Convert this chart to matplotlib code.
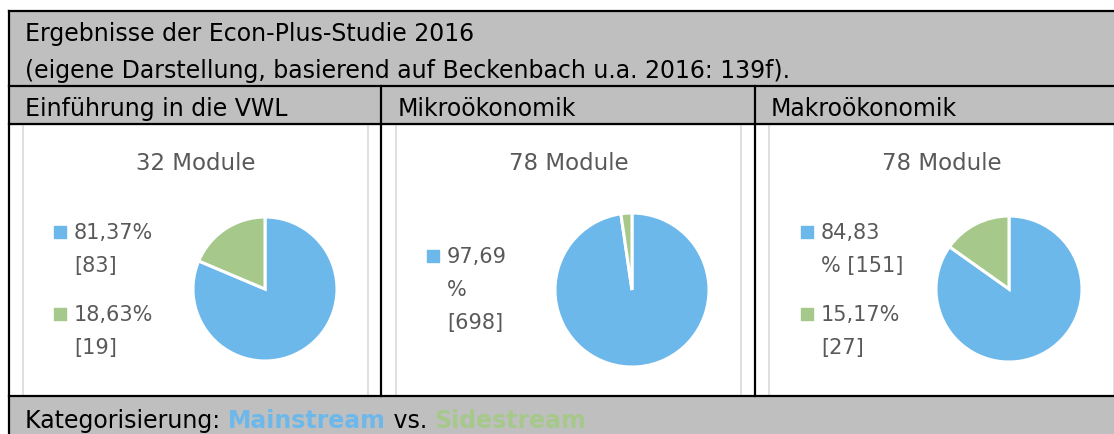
import matplotlib.pyplot as plt
from matplotlib.patches import Rectangle

# data
modules = ["Einführung in die VWL", "Mikroökonomik", "Makroökonomik"]
module_counts = [32, 78, 78]
mainstream_pct = [81.37, 97.69, 84.83]
sidestream_pct = [18.63, 2.31, 15.17]
mainstream_n = [83, 698, 151]
sidestream_n = [19, None, 27]
categories = ["Mainstream", "Sidestream"]

blue = "#6DB8EA"
green = "#A6C98B"
grey = "#BFBFBF"
txtgrey = "#595959"

plt.rcParams['font.family'] = ['DejaVu Sans']

W, H = 1114, 435
fig = plt.figure(figsize=(W / 100, H / 100), dpi=100)
ax = fig.add_axes([0, 0, 1, 1])
ax.set_xlim(0, W)
ax.set_ylim(H, 0)
ax.axis('off')

# table background
ax.add_patch(Rectangle((9, 12), W, 113, color=grey, zorder=0))
ax.add_patch(Rectangle((9, 397), W, 40, color=grey, zorder=0))

# table lines
lw = 1.6
ax.plot([9, W], [12, 12], color='k', lw=lw)
ax.plot([9, W], [87, 87], color='k', lw=lw)
ax.plot([9, W], [124.5, 124.5], color='k', lw=lw)
ax.plot([9, W], [397, 397], color='k', lw=lw)
ax.plot([9, 9], [12, H], color='k', lw=lw)
for x in [381, 755]:
    ax.plot([x, x], [87, 397], color='k', lw=lw)

fs = 17
ax.text(25, 41, "Ergebnisse der Econ-Plus-Studie 2016", fontsize=fs, va='baseline')
ax.text(25, 78, "(eigene Darstellung, basierend auf Beckenbach u.a. 2016: 139f).",
        fontsize=fs, va='baseline')

col_x = [25, 398, 771]
box_x = [23, 396, 769]
box_w = 345
pie_c = [(265, 290, 72), (632, 291, 77), (1009, 290, 73)]

for i in range(3):
    ax.text(col_x[i], 116, modules[i], fontsize=fs, va='baseline')
    # chart box
    ax.add_patch(Rectangle((box_x[i], 125), box_w, 272, fill=False,
                           edgecolor='#D9D9D9', lw=1.2, zorder=1))
    ax.text(box_x[i] + box_w / 2 + 0.5, 164, f"{module_counts[i]} Module",
            fontsize=16.5, color=txtgrey, ha='center', va='center')

    # pie
    cx, cy, r = pie_c[i]
    pax = fig.add_axes([(cx - r) / W, (H - cy - r) / H, 2 * r / W, 2 * r / H])
    pax.pie([mainstream_pct[i], sidestream_pct[i]], colors=[blue, green],
            startangle=90, counterclock=False,
            wedgeprops=dict(edgecolor='white', linewidth=2.2))
    pax.set_xlim(-1.0, 1.0)
    pax.set_ylim(-1.0, 1.0)
    pax.set_aspect('equal')

# legend entries (wrapped as in the picture)
def pct(p):
    return f"{p:.2f}".replace('.', ',')

legend_lines = [
    [[pct(mainstream_pct[0]) + "%", f"[{mainstream_n[0]}]"],
     [pct(sidestream_pct[0]) + "%", f"[{sidestream_n[0]}]"]],
    [[pct(mainstream_pct[1]), "%", f"[{mainstream_n[1]}]"]],
    [[pct(mainstream_pct[2]), f"% [{mainstream_n[2]}]"],
     [pct(sidestream_pct[2]) + "%", f"[{sidestream_n[2]}]"]],
]
legend_x = [60, 433, 807]
legend_y0 = [233, 257, 233]
cols = [blue, green]
step = 33
for i in range(3):
    y = legend_y0[i]
    for k, lines in enumerate(legend_lines[i]):
        ax.scatter([legend_x[i]], [y], marker='s', s=70, color=cols[k], zorder=3)
        for j, line in enumerate(lines):
            ax.text(legend_x[i] + 14, y + j * step, line, fontsize=15,
                    color=txtgrey, va='center')
        y += len(lines) * step + 16

# bottom row
t = ax.text(25, 428, "Kategorisierung: ", fontsize=fs, va='baseline')
fig.canvas.draw()
r = fig.canvas.get_renderer()
def after(t):
    bb = t.get_window_extent(renderer=r)
    return bb.x1
x = after(t)
t = ax.text(x, 428, categories[0], fontsize=fs, va='baseline', color=blue,
            fontweight='bold')
x = after(t)
t = ax.text(x, 428, " vs. ", fontsize=fs, va='baseline')
x = after(t)
ax.text(x, 428, categories[1], fontsize=fs, va='baseline', color=green,
        fontweight='bold')

fig.savefig("out.png", dpi=100)
